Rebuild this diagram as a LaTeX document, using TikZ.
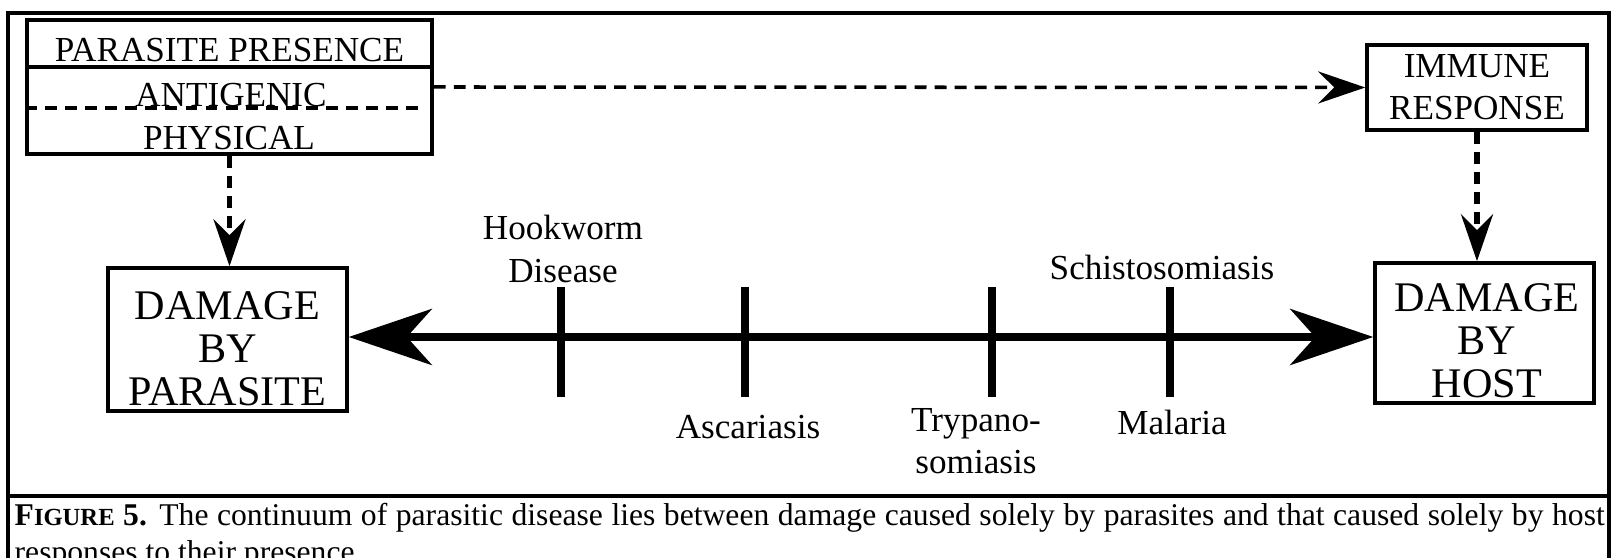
\documentclass[tikz,border=0pt]{standalone}
\usepackage{fontspec}
\setmainfont{Liberation Serif}
\usetikzlibrary{positioning,arrows.meta}

\begin{document}
\begin{tikzpicture}[x=.1mm,y=-.1mm,font=\fontsize{10}{12}\selectfont,box/.style={draw,line width=1pt,inner sep=0pt},big/.style={font=\fontsize{12}{12.2}\selectfont,align=center,inner sep=0pt},lbl/.style={align=center,inner sep=0pt},dasharrow/.style={line width=1pt,dash pattern=on 3.4pt off 2.3pt,-{Stealth[length=4.7mm,width=3.2mm,inset=1.6mm]}},axis/.style={line width=2.3pt,{Stealth[length=8.3mm,width=5.6mm,inset=2.5mm]}-{Stealth[length=8.3mm,width=5.6mm,inset=2.5mm]}}]
\useasboundingbox (0,0) rectangle (1614,558);
\clip (0,0) rectangle (1614,558);
\draw[line width=.9pt] (8,600) -- (8,13) -- (1609,13) -- (1609,600);
\draw[line width=.9pt] (8,496) -- (1609,496);
\node[box,minimum width=40.5mm,minimum height=13.4mm] (presence) at (229.5,87) {};
\draw[line width=1pt] (presence.west |- 0,67) -- (presence.east |- 0,67);
\draw[line width=1pt,dash pattern=on 3.4pt off 2.3pt] (presence.west |- 0,108) -- ++(393,0);
\node (parpres) at (229.5,50) {PARASITE PRESENCE};
\node (antigen) at (231,95) {ANTIGENIC};
\node (physical) at (229,138) {PHYSICAL};
\node[box,minimum width=22mm,minimum height=8.5mm,align=center] (immune) at (1477,87.5) {IMMUNE\\RESPONSE};
\node[box,minimum width=23.9mm,minimum height=14.3mm] (dmgpar) at (227.5,339.5) {};
\node[big] (dmgpartext) at (227.5,348.5) {DAMAGE\\BY\\PARASITE};
\node[box,minimum width=21.9mm,minimum height=14mm] (dmghost) at (1484.5,333) {};
\node[big] (dmghosttext) at (1487,341) {DAMAGE\\BY\\HOST};
\draw[dasharrow] (presence.east) -- (immune.west);
\draw[dasharrow,line width=1.6pt] (presence.south) -- (presence.south |- dmgpar.north);
\draw[dasharrow,line width=1.6pt] (immune.south) -- (immune.south |- dmghost.north);
\draw[axis] (dmgpar.east |- 0,337) -- (dmghost.west |- 0,337);
\foreach \x in {561,745,992,1170}
  \draw[line width=2pt] (\x,287) -- (\x,397);
\node[lbl] (hookworm) at (563,249) {Hookworm\\Disease};
\node (ascaris) at (748,427) {Ascariasis};
\node[lbl] (trypano) at (976,441) {Trypano-\\somiasis};
\node (schisto) at (1162,267) {Schistosomiasis};
\node (malaria) at (1172,422) {Malaria};
\node[anchor=north west,inner sep=0pt,text width=159mm,align=justify,font=\fontsize{9}{10.5}\selectfont] (caption) at (14,503) {\textbf{F{\fontsize{7}{8}\selectfont IGURE} 5.} The continuum of parasitic disease lies between damage caused solely by parasites and that caused solely by host responses to their presence.};
\end{tikzpicture}
\end{document}
